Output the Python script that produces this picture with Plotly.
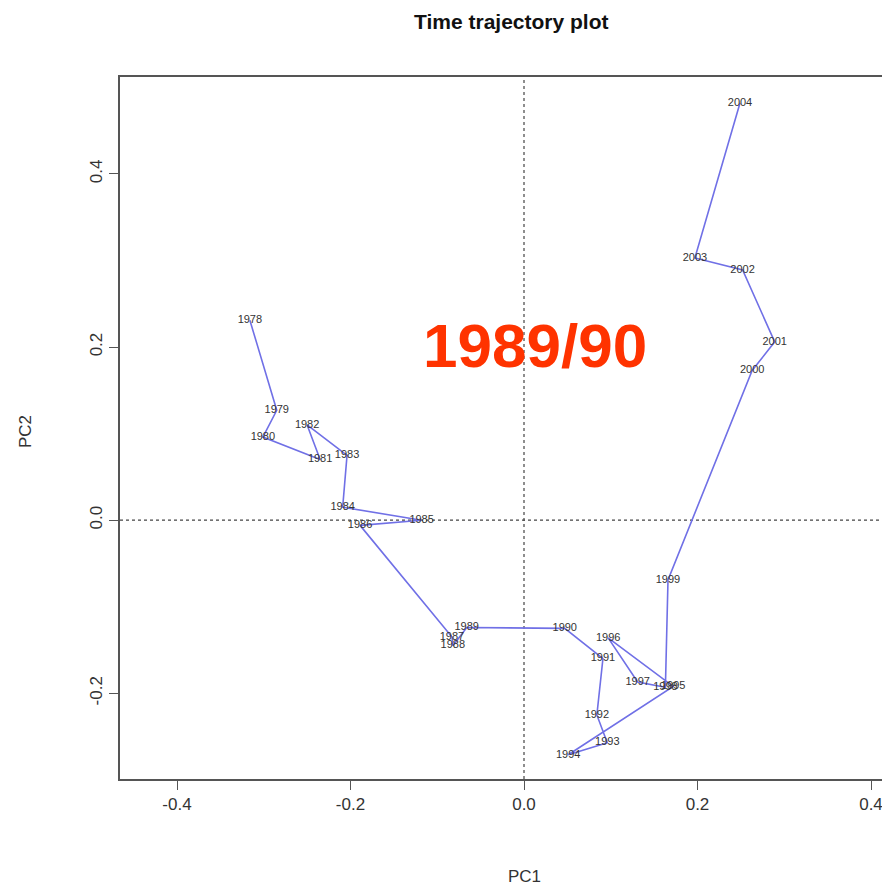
import plotly.graph_objects as go

years = ["1978", "1979", "1980", "1981", "1982", "1983", "1984", "1985", "1986",
         "1987", "1988", "1989", "1990", "1991", "1992", "1993", "1994", "1995",
         "1996", "1997", "1998", "1999", "2000", "2001", "2002", "2003", "2004"]
pc1 = [-0.316, -0.285, -0.301, -0.235, -0.250, -0.204, -0.209, -0.118, -0.189,
       -0.083, -0.082, -0.066, 0.047, 0.091, 0.084, 0.096, 0.051, 0.172,
       0.097, 0.131, 0.163, 0.166, 0.263, 0.289, 0.252, 0.197, 0.249]
pc2 = [0.231, 0.127, 0.096, 0.070, 0.110, 0.075, 0.015, 0.000, -0.006,
       -0.135, -0.145, -0.124, -0.125, -0.160, -0.225, -0.257, -0.271, -0.192,
       -0.136, -0.187, -0.193, -0.069, 0.173, 0.206, 0.289, 0.303, 0.482]
x_ticks = [-0.4, -0.2, 0.0, 0.2, 0.4]
x_tick_labels = ["-0.4", "-0.2", "0.0", "0.2", "0.4"]
y_ticks = [-0.2, 0.0, 0.2, 0.4]
y_tick_labels = ["-0.2", "0.0", "0.2", "0.4"]

FONT = "Liberation Sans, Arial, Helvetica, sans-serif"

# page body has an 8px margin; figure sized/positioned to compensate
OFF = 8
W, H = 890 - OFF, 888 - OFF
L, T, B = 120 - OFF, 77 - OFF, H - (779 - OFF)
PW, PH = W - L, H - T - B

fig = go.Figure()
fig.add_trace(go.Scatter(
    x=pc1, y=pc2, text=years, mode="lines+text",
    line=dict(color="rgb(112,112,230)", width=1.6),
    textposition="middle center",
    textfont=dict(family=FONT, size=11, color="#333333"),
    hoverinfo="skip", showlegend=False, cliponaxis=False,
))

fig.add_shape(type="line", xref="x", yref="paper", x0=0, x1=0, y0=0, y1=1,
              line=dict(color="#444444", width=1.2, dash="dot"), layer="below")
fig.add_shape(type="line", xref="paper", yref="y", x0=0, x1=1, y0=0, y1=0,
              line=dict(color="#444444", width=1.2, dash="dot"), layer="below")

def px_x(x):
    return (x - 120) / PW

def px_y(y):
    return (779 - y) / PH

fig.add_annotation(text="1989/90", x=px_x(535), y=px_y(345), xref="paper", yref="paper",
                   xanchor="center", yanchor="middle", showarrow=False,
                   font=dict(family=FONT, size=62, color="rgb(255,51,0)", weight="bold"))
fig.add_annotation(text="<b>Time trajectory plot</b>", x=px_x(512), y=px_y(22),
                   xref="paper", yref="paper", xanchor="center", yanchor="middle",
                   showarrow=False, font=dict(family=FONT, size=21, color="#111111"))
fig.add_annotation(text="PC1", x=px_x(524), y=px_y(876),
                   xref="paper", yref="paper", xanchor="center", yanchor="middle",
                   showarrow=False, font=dict(family=FONT, size=17, color="#333333"))
fig.add_annotation(text="PC2", x=px_x(25), y=px_y(432),
                   xref="paper", yref="paper", xanchor="center", yanchor="middle",
                   showarrow=False, textangle=-90,
                   font=dict(family=FONT, size=17, color="#333333"))

fig.update_layout(
    width=W, height=H,
    margin=dict(l=L, r=0, t=T, b=B, autoexpand=False),
    paper_bgcolor="white", plot_bgcolor="white",
    font=dict(family=FONT, color="#333333"),
    xaxis=dict(range=[-0.4657, 0.4219], tickvals=x_ticks, ticktext=x_tick_labels,
               showgrid=False, zeroline=False, showline=True, mirror=True,
               linecolor="#555555", linewidth=1.6, ticks="outside", ticklen=9,
               tickcolor="#555555", tickwidth=1.4, automargin=False,
               tickfont=dict(family=FONT, size=17, color="#333333")),
    yaxis=dict(range=[-0.299, 0.512], tickvals=y_ticks, ticktext=y_tick_labels,
               showgrid=False, zeroline=False, showline=True,
               linecolor="#555555", linewidth=1.6, ticks="outside", ticklen=9,
               tickcolor="#555555", tickwidth=1.4, tickangle=-90, automargin=False,
               tickfont=dict(family=FONT, size=17, color="#333333")),
)

fig.write_html("out.html")
